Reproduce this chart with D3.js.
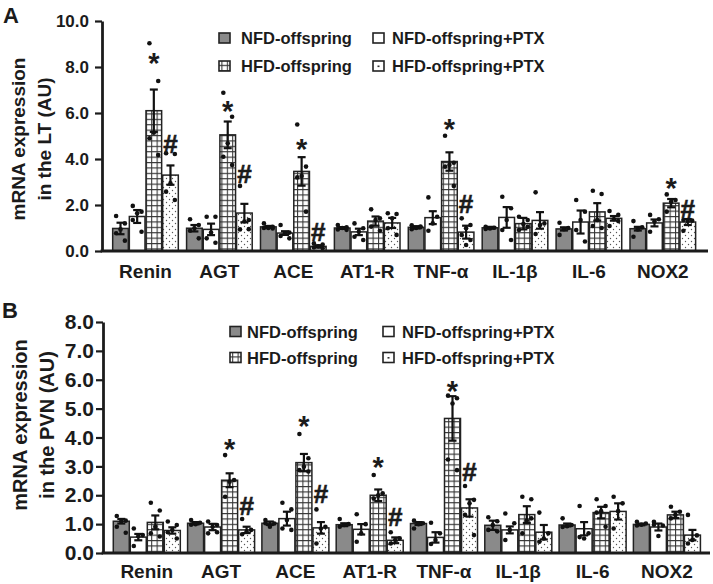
<!DOCTYPE html>
<html><head><meta charset="utf-8">
<script src="https://cdn.jsdelivr.net/npm/d3@7"></script>
<style>body{margin:0;background:#fff}svg{display:block}</style>
</head><body>
<svg id="chart" width="713" height="584"></svg>
<script>
// ---------- DATA ----------
const categories = ["Renin", "AGT", "ACE", "AT1-R", "TNF-\u03b1", "IL-1\u03b2", "IL-6", "NOX2"];
const groups = ["NFD-offspring", "NFD-offspring+PTX", "HFD-offspring", "HFD-offspring+PTX"];

// Panel A: lamina terminalis (LT); rows = categories, columns = groups
const ltMean = [
  [0.98, 1.50, 6.10, 3.30],
  [0.99, 0.94, 5.05, 1.65],
  [1.05, 0.78, 3.46, 0.20],
  [1.00, 0.83, 1.30, 1.22],
  [1.03, 1.45, 3.89, 0.82],
  [1.01, 1.46, 1.19, 1.33],
  [0.96, 1.26, 1.70, 1.42],
  [0.97, 1.22, 2.08, 1.26]
];
const ltSem = [
  [0.25, 0.28, 0.92, 0.42],
  [0.14, 0.25, 0.58, 0.40],
  [0.04, 0.08, 0.62, 0.05],
  [0.04, 0.14, 0.20, 0.22],
  [0.05, 0.28, 0.40, 0.28],
  [0.04, 0.45, 0.25, 0.36],
  [0.07, 0.50, 0.38, 0.10],
  [0.08, 0.15, 0.18, 0.13]
];
const ltPoints = [
  [[1.52, 1.20, 0.94, 0.77, 0.45], [1.96, 1.71, 1.64, 1.35, 0.84], [9.03, 7.39, 5.14, 4.90, 4.17], [4.25, 4.22, 2.94, 2.58, 2.22]],
  [[1.38, 1.13, 0.99, 0.88, 0.55], [1.49, 1.49, 0.80, 0.55, 0.36], [6.88, 5.84, 4.68, 4.10, 3.74], [2.83, 1.35, 1.28, 0.94, 0.95]],
  [[1.20, 1.05, 1.00, 1.00, 0.98], [1.13, 0.80, 0.77, 0.65, 0.55], [5.50, 3.67, 3.26, 3.20, 1.71], [0.33, 0.28, 0.20, 0.15, 0.12]],
  [[1.13, 1.03, 1.00, 0.94, 0.92], [1.20, 0.99, 0.84, 0.62, 0.48], [1.81, 1.42, 1.35, 1.06, 0.88], [1.64, 1.61, 1.42, 0.99, 0.70]],
  [[1.12, 1.03, 1.00, 0.95, 1.06], [2.33, 1.49, 1.20, 0.88], [5.01, 3.84, 3.74, 3.67, 2.83], [1.42, 1.13, 0.99, 0.70, 0.48, 0.26]],
  [[1.05, 1.01, 0.98, 0.96], [2.36, 1.86, 1.35, 0.91, 0.48], [1.49, 1.35, 1.17, 0.91, 1.05], [2.55, 1.20, 1.13, 0.74]],
  [[1.23, 1.00, 0.95, 0.70], [2.22, 1.71, 1.35, 0.91, 0.41], [2.62, 2.48, 1.35, 1.09, 1.00], [1.74, 1.57, 1.38, 1.09, 1.30]],
  [[1.30, 1.03, 0.94, 0.62], [1.57, 1.38, 1.28, 0.84], [2.46, 2.22, 2.14, 1.71], [1.35, 1.32, 1.30, 0.88]]
];
const ltStars = [8.45, 6.35, 4.70, null, 5.55, null, null, 3.01];
const ltHashes = [4.68, 3.38, 0.84, null, 2.04, null, null, 1.86];
const ltTicks = [0, 2, 4, 6, 8, 10];

// Panel B: paraventricular nucleus (PVN)
const pvnMean = [
  [1.10, 0.55, 1.06, 0.78],
  [1.03, 0.90, 2.52, 0.80],
  [1.03, 1.19, 3.13, 0.87],
  [0.98, 0.82, 2.00, 0.44],
  [1.02, 0.54, 4.66, 1.56],
  [0.96, 0.80, 1.33, 0.72],
  [0.97, 0.84, 1.40, 1.44],
  [0.99, 0.90, 1.32, 0.62]
];
const pvnSem = [
  [0.08, 0.11, 0.24, 0.11],
  [0.04, 0.11, 0.24, 0.11],
  [0.06, 0.24, 0.30, 0.20],
  [0.05, 0.18, 0.20, 0.10],
  [0.05, 0.18, 0.77, 0.30],
  [0.16, 0.12, 0.29, 0.25],
  [0.05, 0.23, 0.20, 0.28],
  [0.03, 0.12, 0.11, 0.18]
];
const pvnPoints = [
  [[1.28, 1.12, 1.10, 0.91, 0.70], [0.85, 0.62, 0.58, 0.24], [1.74, 1.47, 0.91, 0.68, 0.57], [1.09, 0.97, 0.80, 0.72, 0.50]],
  [[1.14, 1.05, 1.00, 0.98], [1.09, 0.97, 0.91, 0.68, 0.72], [3.39, 2.53, 2.47, 1.95], [1.18, 0.80, 0.74, 0.65]],
  [[1.14, 1.02, 0.91, 1.03], [1.74, 1.51, 1.14, 0.85, 0.80], [4.12, 3.28, 2.99, 2.87, 2.82], [1.51, 0.91, 0.85, 0.33]],
  [[1.18, 1.00, 0.97, 0.91], [1.34, 1.00, 0.68, 0.39], [2.70, 2.07, 2.00, 1.89], [0.72, 0.51, 0.45, 0.33]],
  [[1.12, 1.03, 1.00, 0.85], [1.05, 0.68, 0.45, 0.31], [5.45, 5.36, 5.18, 3.24, 2.87], [2.32, 1.84, 1.72, 1.32, 0.62]],
  [[1.24, 1.10, 0.97, 0.80, 0.75], [1.37, 1.03, 0.80, 0.45], [1.95, 1.86, 1.12, 0.68, 1.20], [1.40, 0.68, 0.50, 0.39]],
  [[1.20, 0.97, 0.93, 0.90], [1.63, 0.68, 0.50, 0.55], [1.86, 1.63, 1.45, 1.40, 0.91], [1.95, 1.72, 1.45, 0.85]],
  [[1.08, 1.02, 0.98, 0.95], [1.08, 0.95, 0.59, 0.98], [1.60, 1.43, 1.32, 1.20], [1.32, 0.61, 0.45, 0.33]]
];
const pvnStars = [null, 3.80, 4.60, 3.20, 5.82, null, null, null];
const pvnHashes = [null, 1.63, 2.04, 1.26, 2.82, null, null, null];
const pvnTicks = [0, 1, 2, 3, 4, 5, 6, 7, 8];

// ---------- STYLE ----------
const FONT = "'Liberation Sans', Arial, Helvetica, sans-serif";
const INK = "#1b1b1b";
const svg = d3.select("#chart");
const defs = svg.append("defs");

const gp = defs.append("pattern").attr("id", "grid").attr("patternUnits", "userSpaceOnUse")
  .attr("width", 5.4).attr("height", 5.4);
gp.append("rect").attr("width", 5.4).attr("height", 5.4).attr("fill", "#fff");
gp.append("path").attr("d", "M0 0.5H5.4M0.5 0V5.4").attr("stroke", "#333").attr("stroke-width", 1.1);

const dp = defs.append("pattern").attr("id", "dots").attr("patternUnits", "userSpaceOnUse")
  .attr("width", 6).attr("height", 6);
dp.append("rect").attr("width", 6).attr("height", 6).attr("fill", "#fff");
dp.append("circle").attr("cx", 1.5).attr("cy", 1.5).attr("r", 0.7).attr("fill", "#555");
dp.append("circle").attr("cx", 4.5).attr("cy", 4.5).attr("r", 0.7).attr("fill", "#555");

const fills = ["#8a8a8a", "#ffffff", "url(#grid)", "url(#dots)"];
const jitter = [-0.28, 0.28, 0, -0.28, 0.28, 0];

function drawPanel(p) {
  const g = svg.append("g");
  const x0 = d3.scaleBand().domain(categories).range(p.xRange).paddingInner(p.pad).paddingOuter(p.pad);
  const x1 = d3.scaleBand().domain(groups).range([0, x0.bandwidth()]).paddingInner(0.06);
  const y = d3.scaleLinear().domain([0, p.yMax]).range(p.yRange);
  const bw = x1.bandwidth();

  const recs = [];
  categories.forEach((c, ci) => groups.forEach((gn, gi) => {
    recs.push({c, ci, gn, gi, m: p.mean[ci][gi], s: p.sem[ci][gi], pts: p.points[ci][gi],
      cx: x0(c) + x1(gn) + bw / 2});
  }));

  // bars
  g.selectAll("rect.bar").data(recs).join("rect").attr("class", "bar")
    .attr("x", d => x0(d.c) + x1(d.gn)).attr("width", bw)
    .attr("y", d => y(d.m)).attr("height", d => y(0) - y(d.m))
    .attr("fill", d => fills[d.gi]).attr("stroke", "#222").attr("stroke-width", 1.5);

  // error bars
  const eb = g.selectAll("g.eb").data(recs).join("g").attr("class", "eb")
    .attr("stroke", "#111").attr("stroke-width", 2.2).attr("fill", "none");
  eb.append("line").attr("x1", d => d.cx).attr("x2", d => d.cx)
    .attr("y1", d => y(d.m + d.s)).attr("y2", d => y(Math.max(0, d.m - d.s)));
  eb.append("line").attr("x1", d => d.cx - 4).attr("x2", d => d.cx + 4)
    .attr("y1", d => y(d.m + d.s)).attr("y2", d => y(d.m + d.s));
  eb.append("line").attr("x1", d => d.cx - 4).attr("x2", d => d.cx + 4)
    .attr("y1", d => y(Math.max(0, d.m - d.s))).attr("y2", d => y(Math.max(0, d.m - d.s)));

  // individual points
  const pts = [];
  recs.forEach(d => d.pts.forEach((v, i) => pts.push({v, x: d.cx + jitter[i % jitter.length] * bw})));
  g.selectAll("circle.pt").data(pts).join("circle").attr("class", "pt")
    .attr("cx", d => d.x).attr("cy", d => y(d.v)).attr("r", 2.3).attr("fill", "#111");

  // significance marks
  const stars = categories.map((c, ci) => ({c, v: p.stars[ci]})).filter(d => d.v != null);
  g.selectAll("text.star").data(stars).join("text").attr("class", "star")
    .attr("x", d => x0(d.c) + x1(groups[2]) + bw / 2).attr("y", d => y(d.v) + 16)
    .attr("text-anchor", "middle").attr("font-family", FONT).attr("font-weight", "bold")
    .attr("font-size", 29).attr("fill", INK).text("*");
  const hashes = categories.map((c, ci) => ({c, v: p.hashes[ci]})).filter(d => d.v != null);
  g.selectAll("text.hash").data(hashes).join("text").attr("class", "hash")
    .attr("x", d => x0(d.c) + x1(groups[3]) + bw / 2).attr("y", d => y(d.v) + 9.3)
    .attr("text-anchor", "middle").attr("font-family", FONT).attr("font-weight", "bold")
    .attr("font-size", 26).attr("fill", INK).attr("stroke", INK).attr("stroke-width", 0.6).text("#");

  // y axis
  const ya = g.append("g").attr("transform", `translate(${p.axisX},0)`)
    .call(d3.axisLeft(y).tickValues(p.ticks).tickFormat(d3.format(".1f"))
      .tickSize(7).tickSizeOuter(0).tickPadding(p.tickPad));
  ya.select(".domain").attr("stroke", INK).attr("stroke-width", 2.8);
  ya.selectAll(".tick line").attr("stroke", INK).attr("stroke-width", 2.2);
  ya.selectAll(".tick text").attr("font-family", FONT).attr("font-weight", "bold")
    .attr("font-size", p.tickFont).attr("fill", INK);

  // x axis baseline
  g.append("line").attr("x1", p.axisX - 1.4).attr("x2", p.xEnd).attr("y1", y(0)).attr("y2", y(0))
    .attr("stroke", INK).attr("stroke-width", 2.8);

  // category labels
  g.selectAll("text.cat").data(categories).join("text").attr("class", "cat")
    .attr("x", d => x0(d) + x0.bandwidth() / 2).attr("y", p.catY)
    .attr("text-anchor", "middle").attr("font-family", FONT).attr("font-weight", "bold")
    .attr("font-size", 19).attr("fill", INK).text(d => d);

  // y title
  p.title.forEach((t, i) => {
    g.append("text").attr("transform", `translate(${p.titleX[i]},${p.titleY}) rotate(-90)`)
      .attr("text-anchor", "middle").attr("font-family", FONT).attr("font-weight", "bold")
      .attr("font-size", p.titleFont).attr("fill", INK).text(t);
  });

  // panel letter
  g.append("text").attr("x", p.letterX).attr("y", p.letterY).attr("font-family", FONT)
    .attr("font-weight", "bold").attr("font-size", 22).attr("fill", INK).text(p.letter);

  // legend
  const order = [0, 2, 1, 3];
  order.forEach((gi, k) => {
    const col = Math.floor(k / 2), row = k % 2;
    const sx = p.legSX[col], tx = p.legTX[col], cy = p.legY[row];
    const lg = g.append("g");
    lg.append("rect").attr("x", sx).attr("y", cy - 5).attr("width", 11).attr("height", 10)
      .attr("fill", gi === 3 ? "#fff" : fills[gi]).attr("stroke", "#222").attr("stroke-width", 1.6);
    if (gi === 3) lg.append("rect").attr("x", sx + 4.5).attr("y", cy - 0.5).attr("width", 2).attr("height", 1.6).attr("fill", "#333");
    lg.append("text").attr("x", tx).attr("y", cy + 6).attr("font-family", FONT).attr("font-weight", "bold")
      .attr("font-size", 16.5).attr("fill", INK).text(groups[gi]);
  });
}

drawPanel({
  mean: ltMean, sem: ltSem, points: ltPoints, stars: ltStars, hashes: ltHashes, ticks: ltTicks,
  xRange: [104.4, 703.9], pad: 0.112, yMax: 10, yRange: [251, 21], axisX: 102, xEnd: 708,
  tickPad: 6, tickFont: 17, catY: 278, title: ["mRNA expression", "in the LT (AU)"],
  titleX: [25, 51], titleY: 139, titleFont: 19, letter: "A", letterX: 3, letterY: 23,
  legSX: [219, 373], legTX: [241, 392], legY: [38, 66]
});
drawPanel({
  mean: pvnMean, sem: pvnSem, points: pvnPoints, stars: pvnStars, hashes: pvnHashes, ticks: pvnTicks,
  xRange: [106, 707.7], pad: 0.098, yMax: 8, yRange: [553, 322], axisX: 103, xEnd: 710,
  tickPad: 2, tickFont: 21, catY: 578, title: ["mRNA expression", "in the PVN (AU)"],
  titleX: [27, 54], titleY: 425, titleFont: 20, letter: "B", letterX: 2, letterY: 318,
  legSX: [230, 383], legTX: [247, 402], legY: [331.5, 357.5]
});
</script>
</body></html>
